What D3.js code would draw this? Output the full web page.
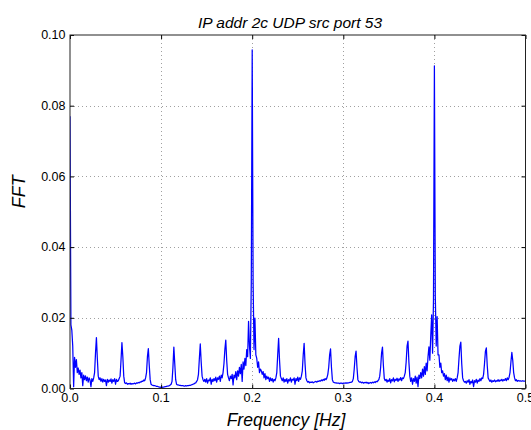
<!DOCTYPE html>
<head>
<meta charset="utf-8">
<script src="https://d3js.org/d3.v7.min.js"></script>
<style>
  body { margin: 0; background: #fff; }
  svg { display: block; font-family: "Liberation Sans", Arial, sans-serif; }
  .tick-label { font-size: 12.5px; fill: #000; }
</style>
</head>
<body>
<div id="my_dataviz"></div>
<script>
// chart text
var title = "IP addr 2c UDP src port 53";
var xLabel = "Frequency [Hz]";
var yLabel = "FFT";

// tick values
var xTicks = [0.0, 0.1, 0.2, 0.3, 0.4, 0.5];
var yTicks = [0.00, 0.02, 0.04, 0.06, 0.08, 0.10];

// spectrum, one value per 0.001 Hz bin from 0 to 0.5 Hz
var freqStep = 0.001;
var fftValues = [
  0.0770,0.0180,0.0165,0.0120,0.0005,0.0088,0.0060,0.0082,0.0045,0.0058,
  0.0040,0.0052,0.0030,0.0045,0.0008,0.0038,0.0025,0.0036,0.0022,0.0032,
  0.0018,0.0030,0.0024,0.0005,0.0028,0.0020,0.0030,0.0045,0.0100,0.0144,
  0.0085,0.0035,0.0025,0.0030,0.0020,0.0028,0.0018,0.0026,0.0020,0.0024,
  0.0008,0.0026,0.0018,0.0024,0.0020,0.0027,0.0015,0.0025,0.0020,0.0028,
  0.0012,0.0026,0.0020,0.0022,0.0028,0.0035,0.0080,0.0130,0.0090,0.0035,
  0.0016,0.0014,0.0016,0.0012,0.0014,0.0013,0.0015,0.0012,0.0014,0.0013,
  0.0014,0.0015,0.0013,0.0016,0.0015,0.0017,0.0016,0.0019,0.0018,0.0021,
  0.0020,0.0024,0.0022,0.0030,0.0045,0.0090,0.0113,0.0065,0.0025,0.0012,
  0.0010,0.0009,0.0008,0.0008,0.0007,0.0006,0.0006,0.0005,0.0004,0.0004,
  0.0003,0.0003,0.0004,0.0004,0.0005,0.0005,0.0006,0.0007,0.0007,0.0008,
  0.0010,0.0012,0.0020,0.0060,0.0117,0.0070,0.0025,0.0012,0.0010,0.0010,
  0.0009,0.0009,0.0008,0.0008,0.0008,0.0007,0.0007,0.0008,0.0007,0.0008,
  0.0008,0.0009,0.0009,0.0010,0.0011,0.0012,0.0013,0.0015,0.0016,0.0020,
  0.0025,0.0040,0.0085,0.0126,0.0075,0.0035,0.0025,0.0020,0.0026,0.0018,
  0.0028,0.0015,0.0024,0.0022,0.0030,0.0012,0.0026,0.0020,0.0028,0.0022,
  0.0032,0.0018,0.0030,0.0026,0.0035,0.0020,0.0038,0.0030,0.0045,0.0070,
  0.0110,0.0137,0.0080,0.0040,0.0030,0.0022,0.0035,0.0028,0.0040,0.0010,
  0.0038,0.0030,0.0048,0.0025,0.0050,0.0035,0.0060,0.0042,0.0068,0.0020,
  0.0075,0.0055,0.0085,0.0065,0.0110,0.0090,0.0190,0.0120,0.0085,0.0300,
  0.0958,0.0300,0.0110,0.0199,0.0095,0.0085,0.0060,0.0075,0.0045,0.0055,
  0.0050,0.0040,0.0048,0.0030,0.0042,0.0025,0.0035,0.0028,0.0032,0.0020,
  0.0030,0.0022,0.0028,0.0018,0.0026,0.0022,0.0030,0.0045,0.0095,0.0142,
  0.0080,0.0035,0.0028,0.0022,0.0030,0.0018,0.0026,0.0020,0.0028,0.0015,
  0.0025,0.0022,0.0030,0.0018,0.0026,0.0024,0.0030,0.0012,0.0028,0.0022,
  0.0032,0.0020,0.0030,0.0026,0.0035,0.0050,0.0095,0.0128,0.0070,0.0030,
  0.0022,0.0018,0.0020,0.0016,0.0018,0.0017,0.0019,0.0016,0.0018,0.0019,
  0.0020,0.0018,0.0021,0.0020,0.0022,0.0021,0.0024,0.0022,0.0026,0.0023,
  0.0028,0.0025,0.0030,0.0040,0.0060,0.0095,0.0112,0.0060,0.0025,0.0018,
  0.0017,0.0016,0.0016,0.0015,0.0015,0.0015,0.0014,0.0015,0.0015,0.0014,
  0.0015,0.0015,0.0015,0.0016,0.0015,0.0016,0.0016,0.0017,0.0017,0.0018,
  0.0020,0.0028,0.0055,0.0090,0.0106,0.0060,0.0025,0.0020,0.0018,0.0019,
  0.0016,0.0018,0.0015,0.0017,0.0016,0.0018,0.0015,0.0017,0.0014,0.0016,
  0.0017,0.0015,0.0018,0.0016,0.0019,0.0017,0.0020,0.0019,0.0022,0.0025,
  0.0035,0.0060,0.0100,0.0117,0.0065,0.0028,0.0022,0.0026,0.0018,0.0024,
  0.0020,0.0028,0.0016,0.0025,0.0022,0.0030,0.0019,0.0026,0.0023,0.0029,
  0.0020,0.0027,0.0024,0.0031,0.0022,0.0030,0.0028,0.0035,0.0045,0.0075,
  0.0120,0.0134,0.0075,0.0035,0.0020,0.0030,0.0012,0.0028,0.0020,0.0035,
  0.0015,0.0032,0.0005,0.0038,0.0028,0.0045,0.0030,0.0055,0.0035,0.0062,
  0.0040,0.0072,0.0050,0.0090,0.0118,0.0080,0.0150,0.0208,0.0100,0.0250,
  0.0913,0.0260,0.0120,0.0203,0.0095,0.0095,0.0060,0.0072,0.0045,0.0050,
  0.0035,0.0042,0.0025,0.0038,0.0022,0.0032,0.0018,0.0030,0.0024,0.0028,
  0.0020,0.0026,0.0022,0.0028,0.0020,0.0030,0.0045,0.0085,0.0120,0.0131,
  0.0070,0.0030,0.0022,0.0018,0.0020,0.0015,0.0022,0.0018,0.0025,0.0012,
  0.0020,0.0016,0.0024,0.0005,0.0022,0.0018,0.0026,0.0015,0.0024,0.0020,
  0.0028,0.0022,0.0030,0.0028,0.0040,0.0070,0.0105,0.0115,0.0065,0.0030,
  0.0025,0.0020,0.0024,0.0018,0.0022,0.0020,0.0024,0.0019,0.0022,0.0021,
  0.0025,0.0020,0.0024,0.0022,0.0026,0.0021,0.0025,0.0023,0.0028,0.0022,
  0.0030,0.0025,0.0032,0.0045,0.0075,0.0102,0.0080,0.0045,0.0030,0.0022,
  0.0025,0.0020,0.0023,0.0021,0.0022,0.0021,0.0021,0.0022,0.0021,0.0021,
  0.0021
];

// plot box
var margin = {top: 35, right: 5.5, bottom: 41.5, left: 70},
    W = 531, H = 430,
    width = W - margin.left - margin.right,
    height = H - margin.top - margin.bottom;

var svg = d3.select("#my_dataviz")
  .append("svg")
    .attr("width", W)
    .attr("height", H)
  .append("g")
    .attr("transform", "translate(" + margin.left + "," + margin.top + ")");

var x = d3.scaleLinear().domain([0, 0.5]).range([0, width]);
var y = d3.scaleLinear().domain([0, 0.1]).range([height, 0]);

// dotted grid
svg.append("g").selectAll("line")
  .data(xTicks.slice(1, -1))
  .enter().append("line")
    .attr("x1", function(d) { return Math.round(x(d)) + 0.5; })
    .attr("x2", function(d) { return Math.round(x(d)) + 0.5; })
    .attr("y1", 0).attr("y2", height)
    .style("stroke", "#888").style("stroke-width", 0.8)
    .style("stroke-dasharray", "1,3");
svg.append("g").selectAll("line")
  .data(yTicks.slice(1, -1))
  .enter().append("line")
    .attr("y1", function(d) { return Math.round(y(d)) + 0.5; })
    .attr("y2", function(d) { return Math.round(y(d)) + 0.5; })
    .attr("x1", 0).attr("x2", width)
    .style("stroke", "#888").style("stroke-width", 0.8)
    .style("stroke-dasharray", "1,3");

// spectrum line
svg.append("clipPath").attr("id", "clip")
  .append("rect").attr("width", width).attr("height", height);

var line = d3.line()
  .x(function(d, i) { return x(i * freqStep); })
  .y(function(d) { return y(d); });

svg.append("path")
  .datum(fftValues)
  .attr("clip-path", "url(#clip)")
  .attr("d", line)
  .style("fill", "none")
  .style("stroke", "#0000ff")
  .style("stroke-width", 1.25)
  .style("stroke-linejoin", "round");

// axes, matplotlib classic style: ticks pointing in, on all four sides
svg.append("g")
  .attr("transform", "translate(0," + height + ")")
  .call(d3.axisTop(x).tickValues(xTicks).tickSize(4).tickFormat(""));
svg.append("g")
  .call(d3.axisBottom(x).tickValues(xTicks).tickSize(4).tickFormat(""));
svg.append("g")
  .call(d3.axisRight(y).tickValues(yTicks).tickSize(4).tickFormat(""));
svg.append("g")
  .attr("transform", "translate(" + width + ",0)")
  .call(d3.axisLeft(y).tickValues(yTicks).tickSize(4).tickFormat(""));
svg.selectAll(".domain").remove();
svg.selectAll(".tick line").style("stroke", "#000");

svg.append("rect")
  .attr("width", width).attr("height", height)
  .style("fill", "none").style("stroke", "#222").style("stroke-width", 1);

// tick labels
svg.append("g").selectAll("text")
  .data(xTicks)
  .enter().append("text")
    .attr("class", "tick-label")
    .attr("x", function(d) { return x(d); })
    .attr("y", height + 13.5)
    .style("text-anchor", "middle")
    .text(function(d) { return d3.format(".1f")(d); });
svg.append("g").selectAll("text")
  .data(yTicks)
  .enter().append("text")
    .attr("class", "tick-label")
    .attr("x", -4.5)
    .attr("y", function(d) { return y(d); })
    .attr("dy", "0.35em")
    .style("text-anchor", "end")
    .text(function(d) { return d3.format(".2f")(d); });

// titles
svg.append("text")
  .attr("x", 220).attr("y", -7.5)
  .style("text-anchor", "middle")
  .style("font-size", "15.5px").style("font-style", "italic")
  .text(title);
svg.append("text")
  .attr("x", 216).attr("y", height + 37.5)
  .style("text-anchor", "middle")
  .style("font-size", "17.5px").style("font-style", "italic")
  .text(xLabel);
svg.append("text")
  .attr("transform", "translate(-45," + (height / 2 - 20) + ") rotate(-90)")
  .style("text-anchor", "middle")
  .style("font-size", "18px").style("font-style", "italic")
  .text(yLabel);
</script>
</body>
